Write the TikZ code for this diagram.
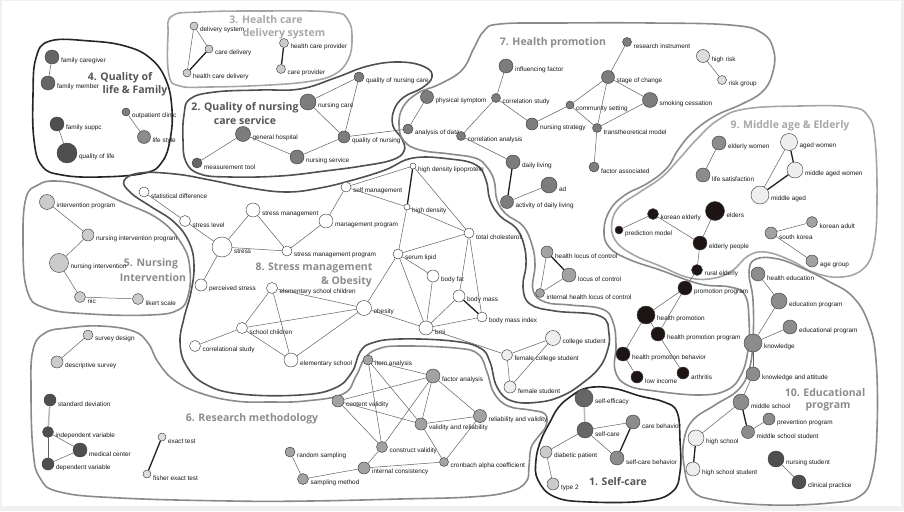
\documentclass[tikz,border=0pt]{standalone}
\usepackage{fontspec}
\newfontfamily\lblfont{Liberation Sans}
\newfontfamily\ttlfont{Open Sans}
\definecolor{gBlk}{HTML}{1E1414}
\definecolor{gDk}{HTML}{4F4F4F}
\definecolor{gDm}{HTML}{666666}
\definecolor{gMd}{HTML}{7C7C7C}
\definecolor{gMl}{HTML}{8C8C8C}
\definecolor{gLm}{HTML}{A2A2A2}
\definecolor{gLt}{HTML}{CBCBCB}
\definecolor{gPl}{HTML}{DDDDDD}
\definecolor{gWh}{HTML}{EEEEEE}
\definecolor{lnBlk}{HTML}{262626}
\definecolor{lnDk}{HTML}{505050}
\definecolor{lnMd}{HTML}{8A8A8A}
\definecolor{lnLt}{HTML}{A6A6A6}
\definecolor{tDk}{HTML}{555555}
\definecolor{tMd}{HTML}{8C8C8C}
\definecolor{tLt}{HTML}{A8A8A8}

\begin{document}
\begin{tikzpicture}[x=1pt,y=-1pt,
  kw/.style={circle,draw=black!75,line width=.45pt,inner sep=0pt},
  lbl/.style={anchor=west,inner sep=.5pt,xshift=1.2pt,yshift=-4pt,font=\lblfont\fontsize{6.4}{7}\selectfont,text=black!90},
  ln/.style={black!62,line width=.5pt},
  thk/.style={black!88,line width=1.3pt},
  pal/.style={black!28,line width=1.5pt},
  rgn/.style={line width=1.6pt},
  ttl/.style={font=\ttlfont\bfseries\fontsize{10.5}{12}\selectfont,inner sep=0pt}]
\fill[gray!12] (0,0) rectangle (904,511);
\fill[white] (2,1) rectangle (901,506);

\draw[rgn,lnLt] plot[smooth cycle,tension=.7] coordinates {(172,16) (200,12) (260,11) (330,12) (348,20) (352,40) (348,60) (335,74) (312,81) (270,85) (210,87) (180,86) (169,75) (168,35)};
\draw[rgn,lnBlk] plot[smooth cycle,tension=.7] coordinates {(50,41) (90,41) (125,46) (150,58) (166,80) (172,110) (170,140) (162,162) (145,173) (100,177) (62,175) (42,166) (34,140) (33,95) (36,58)};
\draw[rgn,lnDk] plot[smooth cycle,tension=.7] coordinates {(190,99) (215,92) (260,90) (300,89) (335,78) (368,66) (400,62) (425,67) (432,77) (422,88) (404,97) (394,110) (393,126) (402,139) (404,151) (392,160) (362,166) (325,171) (280,176) (230,177) (200,174) (186,162) (183,140) (184,115)};
\draw[rgn,lnMd] plot[smooth cycle,tension=.7] coordinates {(500,24) (560,23) (650,23) (730,25) (762,33) (774,52) (772,75) (762,92) (742,104) (715,116) (693,132) (678,150) (667,168) (648,183) (625,195) (610,210) (604,230) (609,247) (628,259) (660,270) (700,284) (730,287) (745,295) (749,320) (748,350) (741,375) (727,390) (700,395) (655,391) (627,385) (615,370) (616,345) (613,322) (602,309) (570,305) (545,302) (533,290) (535,265) (532,245) (523,226) (506,214) (497,200) (494,180) (486,166) (475,158) (450,154) (420,150) (404,141) (399,125) (403,107) (418,93) (440,84) (462,70) (474,48) (484,31)};
\draw[rgn,lnLt] plot[smooth cycle,tension=.7] coordinates {(745,109) (800,106) (850,107) (868,116) (875,140) (877,200) (874,245) (864,268) (842,277) (815,273) (790,260) (765,252) (748,256) (733,270) (715,278) (690,278) (660,266) (632,254) (615,240) (612,222) (620,206) (640,192) (662,177) (680,158) (697,139) (718,120)};
\draw[rgn,lnMd] plot[smooth cycle,tension=.7] coordinates {(749,272) (756,259) (778,259) (802,268) (828,281) (852,296) (868,322) (876,360) (877,430) (872,475) (860,496) (830,503) (770,505) (715,500) (692,490) (684,465) (684,440) (693,420) (715,405) (738,390) (749,370) (753,340) (753,300)};
\draw[rgn,lnBlk] plot[smooth cycle,tension=.7] coordinates {(570,397) (587,388) (612,388) (640,396) (664,402) (677,412) (680,440) (680,472) (672,492) (645,501) (590,502) (555,497) (538,480) (536,460) (541,440) (550,422) (558,408)};
\draw[rgn,lnDk] plot[smooth cycle,tension=.7] coordinates {(140,173) (175,174) (210,180) (250,188) (287,192) (320,188) (353,180) (385,170) (413,158) (450,159) (476,165) (486,180) (490,200) (500,216) (516,228) (524,245) (526,265) (523,287) (530,304) (555,311) (600,316) (609,334) (607,352) (599,368) (584,382) (564,395) (540,402) (512,401) (497,387) (490,362) (480,348) (452,341) (400,339) (372,343) (360,352) (352,372) (335,388) (300,395) (240,394) (205,384) (186,365) (180,342) (184,318) (191,292) (194,265) (189,242) (174,222) (150,206) (131,193) (124,181)};
\draw[rgn,lnMd] plot[smooth cycle,tension=.7] coordinates {(67,328) (100,326) (133,331) (148,343) (158,362) (174,380) (200,393) (235,401) (270,402) (305,401) (343,394) (356,376) (365,358) (378,349) (400,346) (455,348) (478,354) (487,372) (494,393) (508,406) (530,410) (545,414) (546,426) (538,437) (531,448) (529,466) (526,482) (508,492) (470,497) (400,499) (310,501) (230,501) (120,498) (60,492) (40,478) (33,450) (31,390) (33,350) (45,333)};
\draw[rgn,lnMd] plot[smooth cycle,tension=.7] coordinates {(55,181) (85,186) (120,201) (160,220) (183,246) (190,270) (188,296) (178,310) (150,315) (90,314) (45,308) (27,290) (23,240) (26,198) (38,185)};

\node[ttl,text=tLt] (t3a) at (266,20) {3. Health care};
\node[ttl,text=tLt] (t3b) at (284,34) {delivery system};
\node[ttl,text=tDk] (t4a) at (120,78) {4. Quality of};
\node[ttl,text=tDk] (t4b) at (135,91) {life \& Family};
\node[ttl,text=tDk] (t2a) at (245,108) {2. Quality of nursing};
\node[ttl,text=tDk] (t2b) at (245,121) {care service};
\node[ttl,text=tMd] (t7) at (553,43) {7. Health promotion};
\node[ttl,text=tMd] (t5a) at (151,264) {5. Nursing};
\node[ttl,text=tMd] (t5b) at (153,278) {Intervention};
\node[ttl,text=tMd] (t8a) at (314,268) {8. Stress management};
\node[ttl,text=tMd,anchor=east] (t8b) at (372,282) {\& Obesity};
\node[ttl,text=tMd] (t6) at (252,419) {6. Research methodology};
\node[ttl,text=tDk] (t1) at (618,482) {1. Self-care};
\node[ttl,text=tLt] (t9) at (790,126) {9. Middle age \& Elderly};
\node[ttl,text=tMd] (t10a) at (825,393) {10. Educational};
\node[ttl,text=tMd] (t10b) at (828,407) {program};

\foreach \n/\x/\y/\d/\c/\t in {
  ds/194/26/8/gLt/delivery system, cd/209/49/8/gLt/care delivery,
  hcd/187/73/8/gLt/health care delivery, hcp/284/43/9/gLt/health care provider,
  cp/281/69/9/gLt/care provider,
  fc/52/57/14/gDm/family caregiver, fm/48/83/14/gDm/family member,
  fs/57/124/14/gDk/family suppc, ql/67/153/20/gDk/quality of life,
  oc/126/112/8/gMd/outpatient clinic, ls/144/137/13/gMl/life style,
  gh/243/134/15/gMd/general hospital, mt/197/163/10/gDm/measurement tool,
  ns/297/157/14/gMd/nursing service, nc/308/102/16/gMd/nursing care,
  qnc/359/77/10/gMd/quality of nursing care, qn/344/137/12/gMd/quality of nursing,
  ps/427/97/13/gMd/physical symptom, aod/408/129/10/gMd/analysis of data,
  inf/506/66/14/gMd/influencing factor, cs/496/98/9/gMd/correlation study,
  ca/461/136/9/gMd/correlation analysis, dl/513/162/14/gMd/daily living,
  adn/549/185/16/gMd/ad, act/507/202/13/gMd/activity of daily living,
  nst/532/124/12/gMd/nursing strategy, com/570/105/8/gMd/community setting,
  soc/608/77/13/gMd/stage of change, ri/627/42/9/gMd/research instrument,
  smk/650/100/15/gMd/smoking cessation, ttm/597/128/9/gMd/transtheoretical model,
  fa/594/167/10/gMd/factor associated,
  hr/703/56/13/gPl/high risk, rg/722/80/9/gPl/risk group,
  hlc/547/252/12/gLm/health locus of control, loc/569/275/14/gLm/locus of control,
  ihl/540/293/9/gLm/internal health locus of control,
  pp/685/288/14/gBlk/promotion program, hp/646/315/18/gBlk/health promotion,
  hpp/658/334/14/gBlk/health promotion program, hpb/623/354/14/gBlk/health promotion behavior,
  li/637/377/12/gBlk/low income, ar/683/373/12/gBlk/arthritis,
  ip/47/202/15/gLt/intervention program, nip/88/235/12/gLt/nursing intervention program,
  ni/59/263/19/gLt/nursing intervention, nic/80/297/11/gLt/nic,
  lk/138/299/11/gLt/likert scale,
  sd/144/192/10/white/statistical difference, sl/185/221/11/white/stress level,
  st/222/247/20/white/stress, sm/253/210/14/white/stress management,
  smp/287/251/10/white/stress management program, mp/326/221/14/white/management program,
  slf/346/187/10/white/self management, hdl/413/166/6/white/high density lipoprotein,
  hd/407/207/6/white/high density, tc/469/233/10/white/total cholesterol,
  sel/398/254/10/white/serum lipid, bf/433/276/12/white/body fat,
  bm/459/296/12/white/body mass, bmx/482/317/10/white/body mass index,
  ob/364/308/15/white/obesity, bmi/426/328/14/white/bmi,
  pst/201/285/12/white/perceived stress, esc/272/288/11/white/elementary school children,
  sc/242/328/11/white/school children, crs/195/346/11/white/correlational study,
  es/291/360/14/white/elementary school,
  col/553/338/15/gWh/college student, fcs/507/355/11/gWh/female college student,
  fst/510/387/12/gWh/female student,
  sdsn/88/335/10/gLt/survey design, dsv/57/362/12/gLt/descriptive survey,
  stdv/50/400/12/gDk/standard deviation, iv/48/432/11/gDk/independent variable,
  mc/80/450/14/gDk/medical center, dv/48/464/12/gDk/dependent variable,
  et/162/437/8/gPl/exact test, fet/147/474/8/gPl/fisher exact test,
  rs/290/452/10/gLm/random sampling, smt/303/479/11/gLm/sampling method,
  ia/368/360/10/gLm/item analysis, fan/433/376/14/gLm/factor analysis,
  cv/338/401/12/gLm/content validity, var/421/424/12/gLm/validity and reliability,
  rav/480/416/13/gLm/reliability and validity, cnv/382/447/11/gLm/construct validity,
  cac/444/462/9/gLm/cronbach alpha coefficient, ic/364/468/12/gLm/internal consistency,
  se/584/398/18/gDm/self-efficacy, scr/585/430/16/gDm/self-care,
  dp/546/452/12/gLt/diabetic patient, tw/553/484/12/gLt/type 2,
  cb/633/422/14/gMl/care behavior, scb/617/458/14/gMl/self-care behavior,
  ew/719/143/14/gMl/elderly women, lsat/703/175/14/gMl/life satisfaction,
  aw/789/142/17/gWh/aged women, maw/795/170/16/gWh/middle aged women,
  ma/760/195/18/gWh/middle aged, ka/812/222/11/gLm/korean adult,
  sk/771/233/12/gLm/south korea, ag/812/261/12/gLm/age group,
  ke/653/214/11/gBlk/korean elderly, pm/619/230/8/gBlk/prediction model,
  eld/715/211/19/gBlk/elders, ep/700/243/14/gBlk/elderly people,
  re/697/270/11/gBlk/rural elderly,
  he/758/274/14/gMl/health education, edp/779/301/16/gMl/education program,
  edl/790/327/14/gMl/educational program, kn/753/343/18/gMl/knowledge,
  kat/753/374/14/gMl/knowledge and attitude, ms/741/402/16/gMl/middle school,
  pvp/769/419/12/gMl/prevention program, mss/748/432/13/gMl/middle school student,
  hs/696/438/16/gWh/high school, hss/693/469/14/gWh/high school student,
  nsd/776/459/16/gDk/nursing student, clp/799/482/14/gDk/clinical practice}
  \node[kw,minimum size=\d pt,fill=\c,label={[lbl]0:\t}] (\n) at (\x,\y) {};

\foreach \a/\b in {ds/cd, ds/hcd, fc/fm, fs/ql, oc/ls, mt/gh, gh/ns, nc/qnc, nc/qn, qnc/qn,
  qn/ns, qn/aod, ps/aod, inf/cs, cs/ca, cs/nst, ca/dl, act/adn, nst/com, com/soc, com/ttm,
  soc/ri, soc/smk, soc/ttm, ttm/smk, ttm/fa, hr/rg, loc/ihl, hlc/ihl, re/pp, pp/hp, pp/hpp,
  hp/hpp, hp/hpb, hpb/li, hpp/ar, ip/nip, nip/ni, ni/nic, nic/lk, sd/sl, sl/st, st/sm,
  st/pst, st/smp, sm/smp, smp/mp, mp/slf, slf/hd, slf/hdl, hdl/tc, hd/tc, hd/sel, sel/tc,
  sel/ob, sel/bf, sel/bmi, bf/bmi, tc/bm, tc/bmx, bm/bmi, bmi/bmx, ob/bmi, ob/esc, ob/sc,
  ob/es, esc/sc, esc/es, sc/crs, sc/es, bmi/fcs, col/fcs, col/fst, fcs/fst, sdsn/dsv,
  iv/mc, iv/dv, dv/mc, rs/smt, smt/ic, ic/cnv, ic/cac, ia/fan, ia/cnv, ia/var, cv/fan,
  cv/cnv, cv/var, fan/cnv, fan/var, fan/rav, var/rav, var/cac, rav/cac, scr/dp, scr/cb,
  scr/scb, dp/tw, ew/lsat, aw/ma, ka/sk, sk/ag, pm/ke, ke/ep, eld/ep, ep/re, he/edp,
  edp/kn, edl/kn, kn/kat, kat/ms, pvp/mss, ms/hs, nsd/clp}
  \draw[ln] (\a)--(\b);
\foreach \a/\b in {cd/hcd, hcp/cp, dl/act, hlc/loc, hdl/hd, bm/bmx, et/fet, cb/scb,
  aw/maw, maw/ma, ms/mss, hs/hss}
  \draw[thk] (\a)--(\b);
\foreach \a/\b in {stdv/iv, se/scr}
  \draw[pal] (\a)--(\b);
\end{tikzpicture}
\end{document}
